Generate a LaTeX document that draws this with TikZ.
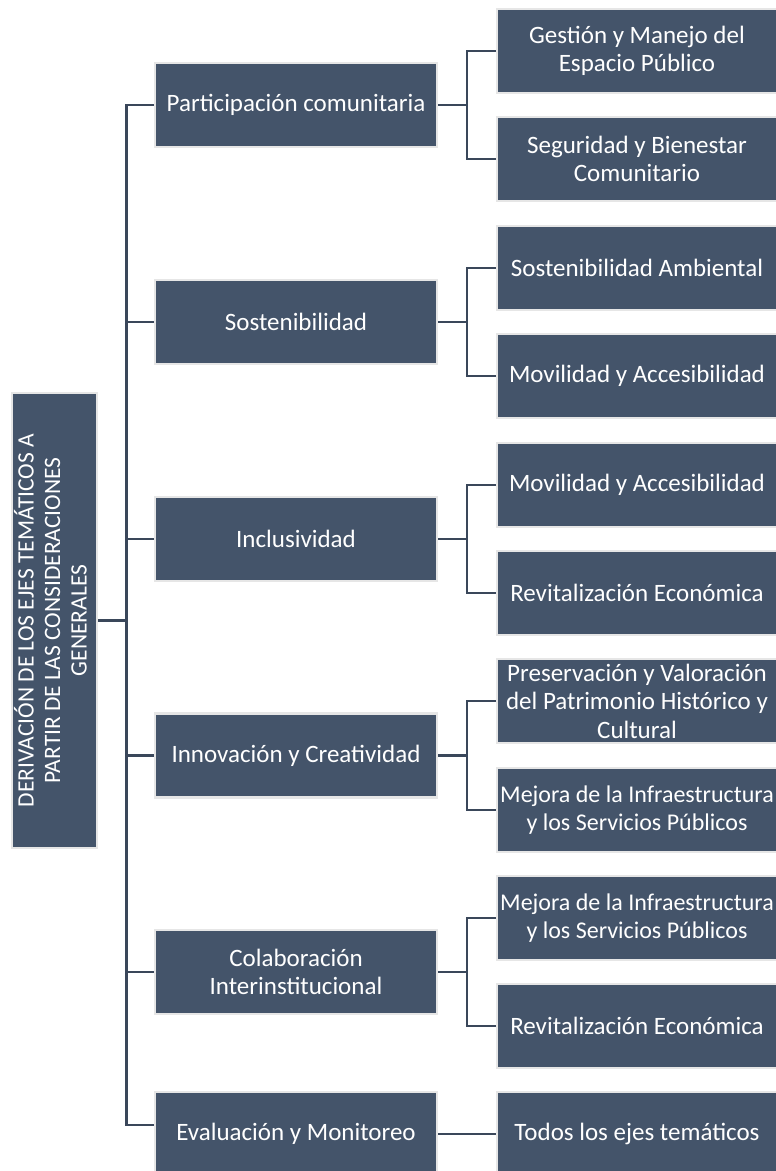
\documentclass[tikz,border=0pt]{standalone}
\usepackage{fontspec}
\setmainfont{Carlito}
\definecolor{boxfill}{HTML}{44546A}
\definecolor{boxedge}{HTML}{E6E6E6}
\definecolor{linecol}{HTML}{3A475A}
\begin{document}
\begin{tikzpicture}[x=1pt,y=-1pt,
  box/.style={rectangle, fill=boxfill, draw=boxedge, line width=2.5pt, text=white,
    align=center, inner sep=0pt, font=\fontsize{25}{28.5}\selectfont},
  midbox/.style={box, minimum width=282, minimum height=84},
  rbox/.style={box, minimum width=280, minimum height=84},
  tight/.style={font=\fontsize{24}{28.5}\selectfont},
  conn/.style={draw=linecol, line width=2.8pt}]
\useasboundingbox (0,0) rectangle (776,1171);
% root
\node[box, minimum width=85, minimum height=455, font=\fontsize{23.5}{27.5}\selectfont] (root) at (54.5,620.5)
  {\rotatebox{90}{\begin{tabular}{@{}c@{}}DERIVACIÓN DE LOS EJES TEMÁTICOS A\\[-1pt] PARTIR DE LAS CONSIDERACIONES\\[-1pt] GENERALES\end{tabular}}};
% middle
\node[midbox] (m1) at (296,105) {Participación comunitaria};
\node[midbox] (m2) at (296,322) {Sostenibilidad};
\node[midbox] (m3) at (296,539) {Inclusividad};
\node[midbox] (m4) at (296,755.5) {Innovación y Creatividad};
\node[midbox] (m5) at (296,972) {Colaboración\\Interinstitucional};
\node[midbox] (m6) at (296,1134) {Evaluación y Monitoreo};
% right
\node[rbox] (r1) at (637,51) {Gestión y Manejo del\\Espacio Público};
\node[rbox] (r2) at (637,159) {Seguridad y Bienestar\\Comunitario};
\node[rbox] (r3) at (637,268) {Sostenibilidad Ambiental};
\node[rbox] (r4) at (637,376) {Movilidad y Accesibilidad};
\node[rbox] (r5) at (637,485) {Movilidad y Accesibilidad};
\node[rbox] (r6) at (637,593) {Revitalización Económica};
\node[rbox] (r7) at (637,701) {Preservación y Valoración\\del Patrimonio Histórico y\\Cultural};
\node[rbox, tight] (r8) at (637,810) {Mejora de la Infraestructura\\y los Servicios Públicos};
\node[rbox, tight] (r9) at (637,918) {Mejora de la Infraestructura\\y los Servicios Públicos};
\node[rbox] (r10) at (637,1026) {Revitalización Económica};
\node[rbox] (r11) at (637,1134) {Todos los ejes temáticos};
% trunk
\coordinate (tt) at (126.5,105);
\coordinate (tb) at (126.5,1125);
\coordinate (bx) at (467,0);
\draw[conn] (m1.west) -- (tt) -- (tb) -- (tb -| m6.west);
\draw[conn] (root.east) -- (root.east -| tt);
\foreach \m in {m2,m3,m4,m5}{\draw[conn] (\m.west) -- (\m.west -| tt);}
% branches
\foreach \m/\a/\b in {m1/r1/r2, m2/r3/r4, m3/r5/r6, m4/r7/r8, m5/r9/r10}{
  \draw[conn] (\m.east) -- (\m.east -| bx);
  \draw[conn] (\a.west) -- (\a.west -| bx) -- (\b.west -| bx) -- (\b.west);
}
\draw[conn] (m6.east) -- (r11.west);
\end{tikzpicture}
\end{document}
